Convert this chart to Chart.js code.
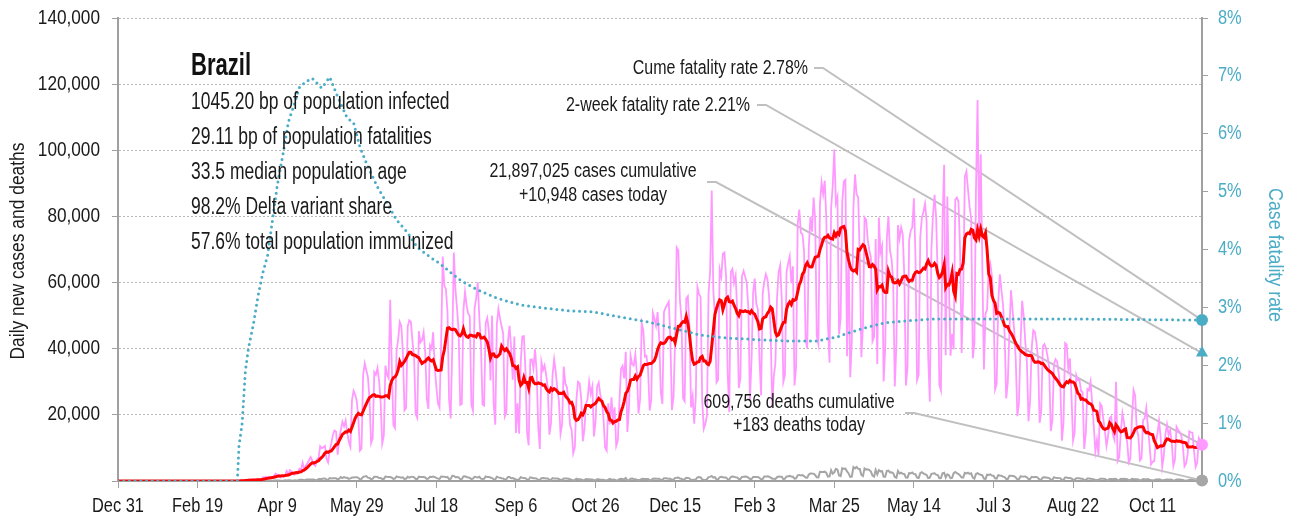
<!DOCTYPE html>
<html>
<head>
<meta charset="utf-8">
<script src="https://cdn.jsdelivr.net/npm/chart.js@4.4.1/dist/chart.umd.min.js"></script>
<style>
  html, body { margin: 0; padding: 0; background: #ffffff; }
  canvas { display: block; }
</style>
</head>
<body>
<canvas id="chart" width="1294" height="520"></canvas>
<script>
// Brazil COVID-19: daily new cases (with 7-day average), daily deaths and the cumulative case fatality rate.
// Day 0 is Dec 31, 2019; the last day (681) is Nov 11, 2021.

const xTickLabels = ['Dec 31', 'Feb 19', 'Apr 9', 'May 29', 'Jul 18', 'Sep 6', 'Oct 26',
                     'Dec 15', 'Feb 3', 'Mar 25', 'May 14', 'Jul 3', 'Aug 22', 'Oct 11'];

// Daily new cases, thousands; one row per week, Tuesday to Monday.
const dailyCasesK = [
  0,0,0,0,0,0,0, 0,0,0,0,0,0,0, 0,0,0,0,0,0,0, 0,0,0,0,0,0,0,
  0,0,0,0,0,0,0, 0,0,0,0,0,0,0, 0,0,0,0,0,0,0, 0,0,0,0,0,0,0,
  0,0.001,0,0,0.001,0,0,
  0.001,0,0.002,0.005,0.006,0,0.005,
  0.009,0.018,0.024,0.051,0.02,0.079,0.034,
  0.057,0.137,0.193,0.283,0.224,0.418,0.378,
  0.323,0.307,0.431,0.432,0.487,0.352,0.323,
  1.138,1.119,1.208,1.012,1.304,0.770,1.031,
  1.556,2.210,1.930,1.781,1.089,1.442,1.261,
  1.832,3.058,2.105,3.257,2.917,2.055,1.927,
  2.498,2.678,3.735,3.503,5.514,3.379,4.613,
  5.385,6.276,7.218,6.209,4.970,4.588,6.633,
  6.935,10.503,9.888,10.222,10.611,6.760,5.632,
  9.258,11.385,13.944,15.305,14.919,7.938,13.140,
  15.5,17.9,16.5,18.3,14.7,11.8,10.3,
  24.5,27.3,26.1,24.2,18.9,9.2,9.8,
  32.1,35.6,33.5,31.4,24.9,11.5,13.0,
  32.9,32.1,34.2,30.4,23.9,11.3,13.7,
  34.9,32.2,31.1,54.8,34.7,16.9,16.0,
  39.4,42.7,48.1,46.9,38.5,21.4,22.1,
  46.7,48.6,48.1,42.2,37.6,20.2,19.1,
  45.3,41.9,42.6,45.0,39.0,24.8,21.8,
  41.0,40.0,45.0,34.3,28.5,23.5,22.2,
  41.6,67.9,59.1,58.0,51.1,24.6,18.9,
  40.8,69.1,57.8,52.1,45.4,23.0,23.3,
  51.6,57.2,53.1,50.6,49.9,23.0,21.2,
  52.2,55.2,60.1,49.5,41.6,23.1,22.8,
  47.8,49.3,45.3,30.4,50.0,23.4,17.0,
  47.4,52.0,49.1,46.7,44.6,19.5,20.7,
  42.3,46.9,40.0,30.6,43.7,14.5,23.5,
  14.3,35.8,43.7,43.8,33.1,14.5,10.8,
  36.7,36.8,34.0,39.8,33.1,16.4,9.7,
  36.0,33.5,35.0,32.0,28.2,14.0,17.3,
  32.1,36.8,33.0,27.9,24.2,14.3,17.2,
  34.6,29.5,28.4,24.2,17.0,15.4,8.4,
  10.2,24.8,30.0,29.5,25.0,12.0,15.5,
  23.2,24.8,30.0,26.4,28.6,13.5,18.0,
  28.6,29.8,26.1,24.3,18.9,10.1,9.2,
  23.5,17.1,25.3,18.5,22.3,10.6,12.2,
  23.9,33.9,34.8,31.0,39.1,14.8,22.0,
  37.9,35.3,34.9,38.3,32.5,20.4,24.7,
  47.7,45.6,37.6,37.9,33.7,21.3,24.7,
  50.9,49.2,46.9,51.1,43.0,26.8,23.3,
  51.1,52.4,53.3,54.2,43.2,21.4,25.4,
  42.8,70.6,69.8,54.8,48.9,25.0,24.1,
  55.2,55.9,46.7,22.3,25.6,17.3,25.5,
  58.7,56.6,55.6,24.6,15.8,17.3,19.9,
  56.6,63.5,87.8,57.6,50.0,29.8,30.6,
  64.0,61.8,68.7,69.1,62.0,33.0,20.8,
  63.2,64.1,59.9,62.1,52.0,28.1,31.1,
  61.9,63.5,61.8,59.8,52.4,24.6,36.5,
  56.9,61.2,53.6,51.9,36.9,25.9,56.6,
  60.3,62.5,61.0,56.0,45.6,22.5,31.6,
  35.7,55.1,63.1,65.2,54.8,30.0,32.1,
  63.2,65.8,67.9,59.8,64.9,28.9,34.5,
  77.8,82.1,75.1,74.6,69.6,42.8,40.0,
  70.8,79.9,75.4,85.7,79.0,43.8,41.4,
  84.0,90.3,86.7,90.8,79.1,47.8,35.8,
  82.5,89.2,100.2,84.0,85.9,44.3,49.4,
  84.5,90.6,91.1,37.7,69.2,31.4,42.1,
  82.6,92.7,86.7,85.8,68.0,37.4,46.8,
  79.7,79.0,73.0,69.8,67.6,42.3,43.6,
  73.2,35.4,79.7,69.1,71.1,30.1,40.4,
  73.4,80.0,69.7,67.0,60.3,28.6,41.0,
  77.4,73.3,76.7,74.6,61.8,28.9,34.4,
  72.7,75.7,76.7,85.5,67.8,30.5,32.1,
  73.7,79.6,81.4,83.8,78.5,37.5,24.0,
  70.0,80.5,86.5,79.5,61.0,29.1,27.4,
  78.9,95.6,38.0,86.0,60.1,37.9,44.5,
  39.8,85.1,85.7,84.5,70.3,38.7,57.9,
  92.0,93.6,88.1,82.9,79.3,37.1,41.5,
  87.8,115.2,74.0,98.8,64.9,33.7,50.6,
  52.0,64.1,65.8,62.0,54.0,27.7,29.4,
  54.0,62.5,57.7,53.3,44.5,25.0,29.9,
  45.0,57.7,51.8,45.6,36.7,19.6,23.6,
  41.4,54.5,49.8,41.9,36.1,18.1,24.2,
  40.2,45.6,45.1,41.9,37.0,17.6,21.1,
  40.7,41.4,40.2,37.6,34.2,15.1,18.3,
  35.3,36.8,36.1,32.4,28.9,12.2,17.8,
  41.7,41.2,33.9,37.1,25.7,12.2,14.7,
  32.0,30.5,30.7,27.3,26.8,9.7,14.5,
  27.8,27.4,30.0,23.6,16.8,9.0,12.4,
  7.8,23.4,22.7,18.8,15.1,10.6,13.6,
  19.0,19.5,14.0,12.4,30.0,6.1,7.2,
  14.8,20.5,17.7,13.9,11.8,5.6,6.7,
  19.0,27.5,25.9,15.7,13.7,6.2,6.8,
  18.5,18.9,22.1,16.5,11.2,5.0,5.8,
  6.0,11.9,14.3,18.2,13.4,4.3,7.5,
  14.2,17.1,13.9,15.4,11.6,4.6,6.5,
  16.4,15.4,14.8,13.7,10.5,4.4,5.3,
  8.2,15.0,14.7,14.6,9.0,4.3,5.6,
  13.0,12.2,10.9
];

// Daily new deaths; same weekly rows.
const dailyDeaths = [
  0,0,0,0,0,0,0, 0,0,0,0,0,0,0, 0,0,0,0,0,0,0, 0,0,0,0,0,0,0,
  0,0,0,0,0,0,0, 0,0,0,0,0,0,0, 0,0,0,0,0,0,0, 0,0,0,0,0,0,0,
  0,0,0,0,0,0,0, 0,0,0,0,0,0,0, 0,0,0,0,0,0,0,
  1,3,2,5,7,7,9,
  12,11,18,18,22,22,22,
  42,40,58,60,73,54,67,
  114,133,141,115,68,99,105,
  204,188,217,206,115,113,204,
  166,165,407,357,346,189,398,
  474,449,435,428,421,275,236,
  600,615,610,751,730,496,396,
  881,749,844,824,816,485,674,
  1179,888,1188,1001,965,653,807,
  1039,1086,1156,1124,956,480,623,
  1262,1349,1473,1005,904,525,679,
  1272,1274,1239,909,892,612,627,
  1338,1269,1238,1206,1022,641,748,
  1374,1185,1141,990,1109,552,692,
  1280,1038,1252,1290,1091,602,620,
  1312,1223,1220,1214,1071,631,733,
  1300,1233,1322,1163,921,716,632,
  1367,1284,1311,1156,1211,555,627,
  1595,1554,1129,1212,1088,541,561,
  1394,1437,1226,1079,905,572,703,
  1274,1175,1060,1262,709,620,684,
  1352,1212,1204,1054,892,494,476,
  1271,1085,984,855,758,366,553,
  1215,1184,834,907,682,447,310,
  504,1136,983,874,814,415,381,
  1113,968,829,858,739,335,377,
  809,869,831,729,733,363,317,
  863,729,732,728,598,326,344,
  734,721,754,677,525,301,201,
  309,713,497,506,461,230,263,
  571,566,497,432,461,230,263,
  549,510,414,394,407,190,179,
  380,620,387,423,363,224,187,
  519,668,576,505,921,216,249,
  676,754,612,510,383,302,273,
  630,691,638,602,587,262,317,
  697,755,672,694,654,313,376,
  842,841,770,686,674,279,433,
  936,968,1054,764,706,305,523,
  963,936,799,340,349,381,481,
  1111,1194,1074,462,314,293,569,
  1171,1242,1524,1035,1171,469,483,
  1131,1274,1151,1050,1050,551,452,
  1192,1340,1316,1096,1054,592,610,
  1214,1283,1386,1279,1050,595,595,
  1209,1208,1232,1239,894,525,597,
  1340,1330,1452,1308,1024,706,647,
  639,1150,1367,1309,1293,527,698,
  1386,1428,1541,1337,1275,721,778,
  1726,1840,1699,1800,1498,1054,987,
  1972,2286,2233,2216,1800,1127,1057,
  2798,2736,2724,2815,2438,1290,1383,
  3251,2244,2639,3650,3438,1656,1480,
  3869,3673,3769,2922,2288,1240,1319,
  4211,3829,4249,3693,3647,1824,1480,
  3808,3459,3560,3305,2865,1657,1347,
  3321,2027,3305,2914,2976,1305,1305,
  3086,3163,2572,2651,2376,1202,983,
  3025,2311,2550,2202,2091,1024,1001,
  2383,2311,2572,2087,2036,1036,893,
  2383,2641,2280,2032,1829,860,1001,
  2173,2245,2342,1922,1798,834,860,
  2346,2507,1067,2025,1752,873,935,
  2378,2723,2344,2092,1689,1036,1037,
  2468,2311,2495,2122,2301,1025,695,
  2131,2392,2081,1879,1694,732,618,
  1911,1814,2029,1674,1595,830,749,
  1780,1648,1574,1324,1172,595,614,
  1605,1556,1492,1427,1088,473,542,
  1424,1367,1323,1324,1113,573,578,
  1279,1164,1233,1184,910,371,411,
  1086,1109,1076,995,868,389,357,
  1139,944,911,870,839,341,324,
  1042,1045,924,894,766,385,355,
  838,823,841,716,705,301,294,
  758,752,693,599,546,264,280,
  266,681,655,651,600,327,265,
  636,625,557,647,592,297,233,
  667,639,644,585,520,270,251,
  663,597,553,533,439,200,237,
  586,564,468,615,406,260,245,
  180,432,465,493,371,205,224,
  408,451,379,419,381,129,165,
  462,451,426,389,317,111,130,
  115,362,396,334,218,69,147,
  306,280,183
];

// Cumulative case fatality rate (%), by day index.
const cfrDays = [0, 75, 76, 78, 80, 82, 85, 88, 91, 94, 97, 100, 104, 107, 110, 114, 118, 122,
                 128, 133, 138, 144, 148, 152, 157, 163, 169, 175, 182, 188, 196, 202, 215, 226,
                 238, 253, 267, 284, 299, 316, 333, 349, 366, 383, 404, 418, 439, 452, 460, 471,
                 481, 492, 512, 540, 600, 640, 681];
const cfrPct  = [0, 0, 0.6, 1.0, 1.9, 2.3, 2.7, 3.2, 3.6, 3.9, 4.5, 5.1, 5.7, 6.2, 6.45, 6.8, 6.9, 6.96,
                 6.79, 6.98, 6.64, 6.27, 6.19, 5.77, 5.43, 5.08, 4.8, 4.51, 4.29, 4.04, 3.87, 3.76, 3.47, 3.3,
                 3.16, 3.04, 2.99, 2.94, 2.92, 2.83, 2.75, 2.64, 2.52, 2.47, 2.44, 2.42, 2.42, 2.49, 2.57, 2.66,
                 2.73, 2.76, 2.8, 2.8, 2.8, 2.79, 2.78];

// Latest figures.
const cumeCases = 21897025;
const casesToday = 10948;
const cumeDeaths = 609756;
const deathsToday = 183;
const cumeCfr = 2.78;
const twoWeekCfr = 2.21;

const countryName = 'Brazil';
const statLines = [
  '1045.20 bp of population infected',
  '29.11 bp of population fatalities',
  '33.5 median population age',
  '98.2% Delta variant share',
  '57.6% total population immunized'
];

// ---------------------------------------------------------------------------

// A condensed look is obtained by squeezing Liberation Sans horizontally.
const FONT = '"Liberation Sans", Arial, sans-serif';
const CYAN = '#4bacc6';
const PINK = '#ff99ff';
const RED = '#ff0000';
const GREY = '#a6a6a6';
const AXIS = '#a0a0a0';
const TEXT = '#1a1a1a';

const lastDay = dailyCasesK.length - 1;
const dailyCases = dailyCasesK.map(v => v * 1000);

function trailingMean(values, span) {
  return values.map((_, i) => {
    const from = Math.max(0, i - span + 1);
    let s = 0;
    for (let j = from; j <= i; j++) s += values[j];
    return s / (i - from + 1);
  });
}

const casesAvg = trailingMean(dailyCases, 7);
const toPoints = arr => arr.map((y, x) => ({ x, y }));
const fmt = n => n.toLocaleString('en-US');

function drawText(ctx, text, x, y, opts) {
  const o = Object.assign({ size: 20, weight: 'normal', color: TEXT, align: 'left',
                            baseline: 'middle', sx: 0.8, rotate: 0 }, opts || {});
  ctx.save();
  ctx.translate(x, y);
  if (o.rotate) ctx.rotate(o.rotate);
  ctx.scale(o.sx, 1);
  ctx.font = `${o.weight} ${o.size}px ${FONT}`;
  ctx.fillStyle = o.color;
  ctx.textAlign = o.align;
  ctx.textBaseline = o.baseline;
  ctx.fillText(text, 0, 0);
  ctx.restore();
}

function leader(ctx, x0, y0, x1, y1) {
  ctx.save();
  ctx.strokeStyle = '#c0c0c0';
  ctx.lineWidth = 2;
  ctx.beginPath();
  ctx.moveTo(x0, y0);
  ctx.lineTo(x0 + 9, y0);
  ctx.lineTo(x1, y1);
  ctx.stroke();
  ctx.restore();
}

// Tick labels, drawn with the same squeezed face as the rest of the text.
const tickTextPlugin = {
  id: 'tickText',
  afterDraw(chart) {
    const { ctx, scales: { x, y, y1 } } = chart;
    x.ticks.forEach(t => {
      const label = xTickLabels[t.value / 50];
      if (label) drawText(ctx, label, x.getPixelForValue(t.value), 506, { align: 'center', sx: 0.82 });
    });
    y.ticks.forEach(t => {
      if (t.value) drawText(ctx, fmt(t.value), 100, y.getPixelForValue(t.value), { align: 'right', sx: 0.86 });
    });
    y1.ticks.forEach(t => {
      drawText(ctx, t.value + '%', 1218, y1.getPixelForValue(t.value), { align: 'left', sx: 0.82, color: CYAN });
    });
  }
};

const notesPlugin = {
  id: 'notes',
  beforeDatasetsDraw(chart) {
    const { ctx, scales } = chart;
    const xe = scales.x.getPixelForValue(lastDay);
    leader(ctx, 814, 68, xe, scales.y1.getPixelForValue(cumeCfr));
    leader(ctx, 757, 105, xe, scales.y1.getPixelForValue(twoWeekCfr));
    leader(ctx, 707, 182, xe, scales.y.getPixelForValue(casesToday));
    leader(ctx, 905, 413, xe, scales.y.getPixelForValue(deathsToday));
  },
  afterDraw(chart) {
    const { ctx } = chart;
    // Country block
    drawText(ctx, countryName, 191, 75, { size: 32, weight: 'bold', baseline: 'alphabetic', sx: 0.69, color: '#111' });
    statLines.forEach((line, i) => {
      drawText(ctx, line, 191, 103 + i * 35, { size: 23, sx: 0.76 });
    });
    // Latest-figure notes
    drawText(ctx, `Cume fatality rate ${cumeCfr.toFixed(2)}%`, 808, 68, { align: 'right' });
    drawText(ctx, `2-week fatality rate ${twoWeekCfr.toFixed(2)}%`, 750, 105, { align: 'right' });
    drawText(ctx, `${fmt(cumeCases)} cases cumulative`, 593, 171, { align: 'center' });
    drawText(ctx, `+${fmt(casesToday)} cases today`, 593, 195, { align: 'center' });
    drawText(ctx, `${fmt(cumeDeaths)} deaths cumulative`, 799, 402, { align: 'center' });
    drawText(ctx, `+${fmt(deathsToday)} deaths today`, 799, 425, { align: 'center' });
    // Axis titles
    drawText(ctx, 'Daily new cases and deaths', 18, 251, { align: 'center', rotate: -Math.PI / 2, size: 21, sx: 0.83 });
    drawText(ctx, 'Case fatality rate', 1275, 255, { align: 'center', rotate: Math.PI / 2, size: 21, sx: 0.85, color: CYAN });
  }
};

const marker = (y, axis, color, style, r) => ({
  type: 'line',
  data: [{ x: lastDay, y }],
  yAxisID: axis,
  showLine: false,
  pointStyle: style,
  pointRadius: r,
  pointBackgroundColor: color,
  pointBorderWidth: 0,
  clip: false,
  order: 0
});

new Chart(document.getElementById('chart'), {
  type: 'line',
  data: {
    datasets: [
      marker(cumeCfr, 'y1', CYAN, 'circle', 6),
      marker(twoWeekCfr, 'y1', CYAN, 'triangle', 7),
      marker(casesToday, 'y', PINK, 'circle', 6),
      marker(deathsToday, 'y', GREY, 'circle', 6),
      {
        label: 'Case fatality rate',
        data: cfrDays.map((d, i) => ({ x: d, y: cfrPct[i] })),
        yAxisID: 'y1',
        borderColor: CYAN,
        borderWidth: 3,
        borderDash: [0, 5.7],
        borderCapStyle: 'round',
        pointRadius: 0,
        tension: 0,
        order: 1
      },
      {
        label: 'Cases, 7-day average',
        data: toPoints(casesAvg),
        yAxisID: 'y',
        borderColor: RED,
        borderWidth: 3,
        pointRadius: 0,
        tension: 0,
        order: 2
      },
      {
        label: 'Daily deaths',
        data: toPoints(dailyDeaths),
        yAxisID: 'y',
        borderColor: GREY,
        borderWidth: 2,
        pointRadius: 0,
        tension: 0,
        order: 3
      },
      {
        label: 'Daily cases',
        data: toPoints(dailyCases),
        yAxisID: 'y',
        borderColor: PINK,
        borderWidth: 1.8,
        pointRadius: 0,
        tension: 0,
        order: 4
      }
    ]
  },
  options: {
    responsive: false,
    animation: false,
    devicePixelRatio: 1,
    normalized: true,
    layout: { autoPadding: false, padding: { top: 18, left: 0, right: 0, bottom: 0 } },
    plugins: { legend: { display: false }, tooltip: { enabled: false } },
    events: [],
    scales: {
      x: {
        type: 'linear',
        min: 0,
        max: lastDay,
        afterFit: s => { s.height = 39; },
        ticks: {
          display: false,
          stepSize: 50,
          autoSkip: false,
          includeBounds: false,
          maxTicksLimit: 30,
          maxRotation: 0
        },
        grid: { drawOnChartArea: false, drawTicks: true, tickLength: 7, tickColor: AXIS, tickWidth: 1 },
        border: { color: AXIS, width: 2 }
      },
      y: {
        position: 'left',
        min: 0,
        max: 140000,
        afterFit: s => { s.width = 118; },
        ticks: { display: false, stepSize: 20000 },
        grid: {
          color: c => (c.tick && c.tick.value === 0 ? 'rgba(0,0,0,0)' : '#b8b8b8'),
          lineWidth: 1,
          drawTicks: true,
          tickLength: 6,
          tickColor: AXIS
        },
        border: { color: AXIS, width: 2, dash: [2, 2] }
      },
      y1: {
        position: 'right',
        min: 0,
        max: 8,
        afterFit: s => { s.width = 92; },
        ticks: { display: false, stepSize: 1 },
        grid: { drawOnChartArea: false, drawTicks: true, tickLength: 6, tickColor: AXIS },
        border: { color: AXIS, width: 2 }
      }
    }
  },
  plugins: [notesPlugin, tickTextPlugin]
});
</script>
</body>
</html>
